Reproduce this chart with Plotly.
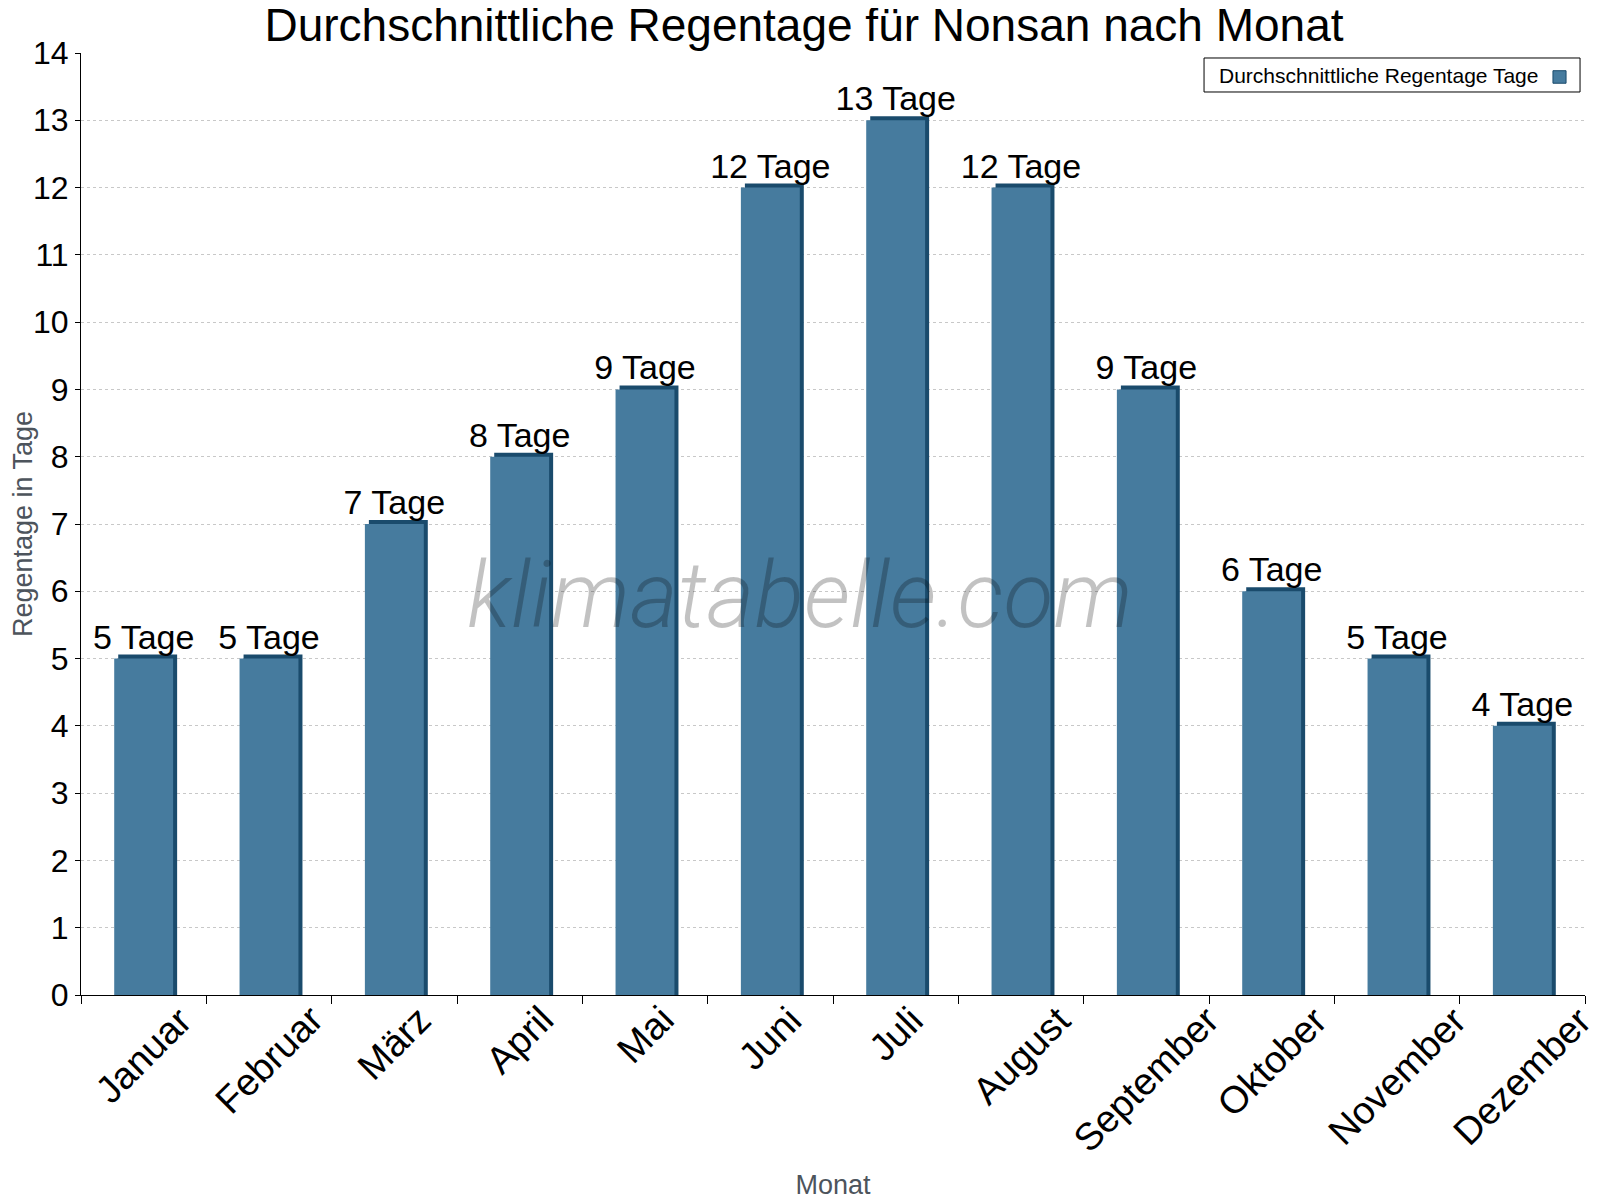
import plotly.graph_objects as go

months = ["Januar", "Februar", "März", "April", "Mai", "Juni", "Juli",
          "August", "September", "Oktober", "November", "Dezember"]
rain_days = [5, 5, 7, 8, 9, 12, 13, 12, 9, 6, 5, 4]
y_ticks = list(range(0, 15))
series_name = "Durchschnittliche Regentage Tage"

FONT = "Liberation Sans, Arial, sans-serif"
FRONT = "#467b9e"
SIDE = "#1a4b6c"
AXIS_TITLE = "#4d545c"
BAR_W = 0.47
DEPTH_X = 0.032   # 3D side depth (category units)
DEPTH_Y = 0.06    # 3D top depth (value units)

fig = go.Figure()

# dark "3D" side/top faces
fig.add_trace(go.Bar(
    x=months, y=[v + DEPTH_Y for v in rain_days],
    width=BAR_W, offset=-BAR_W / 2 + DEPTH_X,
    marker=dict(color=SIDE, line=dict(width=0)),
    showlegend=False, hoverinfo="skip",
))
# front faces
fig.add_trace(go.Bar(
    x=months, y=rain_days,
    width=BAR_W, offset=-BAR_W / 2,
    marker=dict(color=FRONT, line=dict(width=0)),
    name=series_name, showlegend=False,
    text=[f"{v} Tage" for v in rain_days],
    textposition="outside", constraintext="none",
    textfont=dict(family=FONT, size=34, color="black"),
    cliponaxis=False,
))

# rotated month labels, centred under each category
month_labels = [
    dict(text=m, x=m, xref="x", y=-0.0008, yref="paper",
         xanchor="center", yanchor="top", textangle=-45, showarrow=False,
         font=dict(family=FONT, size=38, color="black"))
    for m in months
]

# legend box (symbol on the right, as in the original)
legend_shapes = [
    dict(type="rect", xref="paper", yref="paper",
         x0=0.7467, x1=0.9967, y0=0.9586, y1=0.9947,
         fillcolor="white", line=dict(color="black", width=1), layer="above"),
    dict(type="rect", xref="paper", yref="paper",
         x0=0.9787, x1=0.9874, y0=0.9679, y1=0.9812,
         fillcolor=FRONT, line=dict(color=SIDE, width=1), layer="above"),
]

# the page body has an 8px margin, so the figure is 8px smaller than the window
fig.update_layout(
    barmode="overlay",
    width=1592, height=1192,
    paper_bgcolor="white", plot_bgcolor="white",
    margin=dict(l=73, r=15, t=45, b=205, autoexpand=False),
    font=dict(family=FONT, color="black"),
    title=dict(text="Durchschnittliche Regentage für Nonsan nach Monat",
               x=0.5, xanchor="center", xref="container",
               y=0.9858, yanchor="middle", yref="container",
               font=dict(family=FONT, size=46, color="black")),
    showlegend=False,
    shapes=legend_shapes,
    annotations=[
        dict(
            text="klimatabelle.com", xref="paper", yref="paper",
            x=0.478, y=0.424, showarrow=False,
            font=dict(family="Roboto", size=92, weight=300,
                      color="rgba(0,0,0,0.24)", style="italic"),
        ),
        dict(
            text=series_name, xref="paper", yref="paper",
            x=0.7553, y=0.9766, xanchor="left", yanchor="middle", showarrow=False,
            font=dict(family=FONT, size=21, color="black"),
        ),
    ] + month_labels,
)

fig.update_xaxes(
    automargin=False,
    type="category", categoryorder="array", categoryarray=months,
    range=[-0.5, len(months) - 0.5], autorange=False,
    showline=True, linecolor="black", linewidth=1,
    ticks="outside", ticklen=8, tickcolor="black",
    tickson="boundaries",
    showticklabels=False,
    showgrid=False,
    title=dict(text="Monat", font=dict(family=FONT, size=27, color=AXIS_TITLE), standoff=180),
)
fig.update_yaxes(
    automargin=False,
    range=[0, 14], tickvals=y_ticks,
    showline=True, linecolor="black", linewidth=1,
    ticks="outside", ticklen=5, tickcolor="black",
    tickfont=dict(family=FONT, size=32, color="black"),
    showgrid=True, gridcolor="#c8c8c8", griddash="dot", gridwidth=1,
    zeroline=False,
    title=dict(text="Regentage in Tage", font=dict(family=FONT, size=27, color=AXIS_TITLE), standoff=20),
)

fig.write_html("out.html")
